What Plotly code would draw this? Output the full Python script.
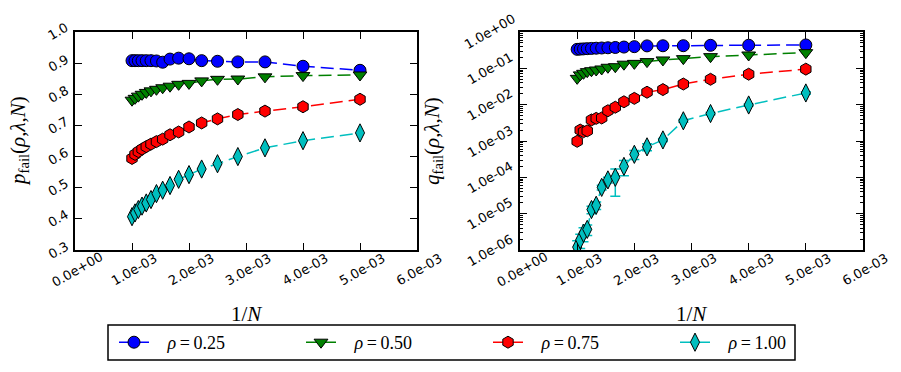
"""
p_fail / q_fail vs 1/N, two panels with a shared legend underneath
"""
import math
import plotly.graph_objects as go

# 1/N for N = 1000, 950, ..., 200
inv_n = [1.000e-3, 1.053e-3, 1.111e-3, 1.176e-3, 1.250e-3, 1.333e-3, 1.429e-3,
         1.538e-3, 1.667e-3, 1.818e-3, 2.000e-3, 2.222e-3, 2.500e-3, 2.857e-3,
         3.333e-3, 4.000e-3, 5.000e-3]

rho_labels = ["0.25", "0.50", "0.75", "1.00"]

# panel izquierdo: p_fail
p_fail_025 = [0.908, 0.908, 0.908, 0.908, 0.908, 0.908, 0.907, 0.903, 0.913,
              0.916, 0.914, 0.908, 0.906, 0.904, 0.904, 0.890, 0.877]
p_fail_050 = [0.781, 0.787, 0.794, 0.800, 0.806, 0.811, 0.816, 0.821, 0.826,
              0.832, 0.835, 0.843, 0.848, 0.849, 0.856, 0.860, 0.862]
p_fail_075 = [0.594, 0.607, 0.616, 0.624, 0.632, 0.640, 0.648, 0.656, 0.670,
              0.679, 0.695, 0.708, 0.721, 0.735, 0.746, 0.760, 0.784]
p_fail_100 = [0.407, 0.419, 0.430, 0.441, 0.451, 0.462, 0.481, 0.492, 0.507,
              0.527, 0.542, 0.560, 0.577, 0.600, 0.628, 0.651, 0.676]

# panel derecho: q_fail (log)
q_fail_025 = [0.333, 0.338, 0.343, 0.348, 0.353, 0.358, 0.363, 0.368, 0.375,
              0.385, 0.395, 0.415, 0.418, 0.420, 0.430, 0.432, 0.440]
q_fail_050 = [0.053, 0.066, 0.073, 0.081, 0.086, 0.090, 0.096, 0.107, 0.111,
              0.130, 0.137, 0.153, 0.170, 0.185, 0.210, 0.233, 0.270]
q_fail_075 = [0.00098, 0.0020, 0.0018, 0.0019, 0.0038, 0.0042, 0.0043, 0.0068,
              0.0085, 0.012, 0.0149, 0.022, 0.026, 0.037, 0.050, 0.069, 0.095]
q_fail_100 = [1.2e-6, 1.9e-6, 2.9e-6, 3.7e-6, 1.3e-5, 1.7e-5, 5.3e-5, 8.5e-5,
              1.0e-4, 2.0e-4, 4.3e-4, 6.9e-4, 1.07e-3, 3.6e-3, 5.7e-3, 9.8e-3, 0.021]
q_err_100 = [0.6e-6, 0.8e-6, 1.2e-6, 1.2e-6, 3e-6, 4e-6, 8e-6, 1.5e-5,
             7e-5, 9e-5, 1.2e-4, 1.5e-4, 1.0e-4, 3e-4, 4e-4, 6e-4, 1.5e-3]

x_ticks = [0, 1e-3, 2e-3, 3e-3, 4e-3, 5e-3, 6e-3]
x_ticktext = ["0.0e+00", "1.0e-03", "2.0e-03", "3.0e-03", "4.0e-03", "5.0e-03", "6.0e-03"]
p_ticks = [0.3, 0.4, 0.5, 0.6, 0.7, 0.8, 0.9, 1.0]
p_ticktext = ["0.3", "0.4", "0.5", "0.6", "0.7", "0.8", "0.9", "1.0"]
q_ticks = [1e-6, 1e-5, 1e-4, 1e-3, 1e-2, 1e-1, 1]
q_ticktext = ["1.0e-06", "1.0e-05", "1.0e-04", "1.0e-03", "1.0e-02", "1.0e-01", "1.0e+00"]
q_minor = [k * 10.0 ** e for e in range(-6, 0) for k in range(2, 10)]

COLORS = ['#0000ff', '#008000', '#ff0000', '#00bfbf']
SYMBOLS = ['circle', 'triangle-down', 'hexagon', 'diamond-tall']
MATH_FONT = "Liberation Serif"
TICK_FONT = dict(family="DejaVu Sans", size=13, color='black')

# el body de la página tiene 8px de margen: la figura se achica y se desplaza
OFF = 8
W, H = 901 - OFF, 372 - OFF


def fx(px):
    """pixel horizontal de la ventana -> fracción de paper"""
    return (px - OFF) / W


def fy(py):
    """pixel vertical de la ventana -> fracción de paper"""
    return 1 - (py - OFF) / H


fig = go.Figure()

p_series = [p_fail_025, p_fail_050, p_fail_075, p_fail_100]
q_series = [q_fail_025, q_fail_050, q_fail_075, q_fail_100]

for i, (p_vals, q_vals) in enumerate(zip(p_series, q_series)):
    estilo = dict(
        mode='lines+markers',
        line=dict(color=COLORS[i], width=1.5, dash='13px,6px'),
        marker=dict(symbol=SYMBOLS[i], size=12 if i != 3 else 13, color=COLORS[i],
                    line=dict(color='black', width=1)),
    )
    fig.add_trace(go.Scatter(
        x=inv_n, y=p_vals, xaxis='x', yaxis='y',
        name=f"&nbsp;&nbsp;&nbsp;<i>ρ</i>\u2009=\u2009{rho_labels[i]}",
        legendgroup=str(i), showlegend=True, **estilo
    ))
    err = dict(type='data', array=q_err_100, color=COLORS[i], thickness=1.5, width=5) \
        if i == 3 else None
    fig.add_trace(go.Scatter(
        x=inv_n, y=q_vals, xaxis='x2', yaxis='y2',
        error_y=err, legendgroup=str(i), showlegend=False, **estilo
    ))

# dominios (pixeles de la referencia)
x1 = [fx(75), fx(417)]
x2 = [fx(520), fx(863)]
yd = [fy(250), fy(32)]

eje = dict(showline=True, linecolor='black', linewidth=2, mirror='ticks',
           ticks='inside', ticklen=7, tickwidth=1, tickcolor='black',
           showgrid=False, zeroline=False, automargin=False, showticklabels=False)

fig.update_layout(
    width=W, height=H,
    margin=dict(l=0, r=0, t=0, b=0),
    plot_bgcolor='white', paper_bgcolor='white',
    xaxis=dict(domain=x1, range=[0, 0.006], tickvals=x_ticks, anchor='y', **eje),
    yaxis=dict(domain=yd, range=[0.3, 1.0], tickvals=p_ticks, anchor='x', **eje),
    xaxis2=dict(domain=x2, range=[0, 0.006], tickvals=x_ticks, anchor='y2', **eje),
    yaxis2=dict(domain=yd, type='log', range=[-6, 0], tickvals=q_ticks, anchor='x2',
                minor=dict(tickmode='array', tickvals=q_minor, ticks='inside',
                           ticklen=3, tickcolor='black', showgrid=False),
                **eje),
    legend=dict(
        orientation='h', x=fx(114), y=fy(324), xanchor='left', yanchor='top',
        borderwidth=0, bgcolor='rgba(0,0,0,0)',
        font=dict(family=MATH_FONT, size=18, color='black'),
        itemwidth=30, entrywidth=142, entrywidthmode='pixels', tracegroupgap=0,
    ),
)

# caja de la leyenda
fig.add_shape(type='rect', xref='paper', yref='paper',
              x0=fx(108), x1=fx(795), y0=fy(360), y1=fy(325),
              line=dict(color='black', width=1.5), layer='below')

# etiquetas de ticks rotadas 30°, centradas como en matplotlib
for xa in ['x', 'x2']:
    for v, t in zip(x_ticks, x_ticktext):
        fig.add_annotation(x=v, y=fy(277), xref=xa, yref='paper', text=t,
                           textangle=-30, showarrow=False, font=TICK_FONT,
                           xanchor='center', yanchor='middle', xshift=2, yshift=8)
for v, t in zip(p_ticks, p_ticktext):
    fig.add_annotation(x=fx(58), y=v, xref='paper', yref='y', text=t,
                       textangle=-30, showarrow=False, font=TICK_FONT,
                       xanchor='center', yanchor='middle')
for v, t in zip(q_ticks, q_ticktext):
    fig.add_annotation(x=fx(490), y=math.log10(v), xref='paper', yref='y2', text=t,
                       textangle=-30, showarrow=False, font=TICK_FONT,
                       xanchor='center', yanchor='middle')

# títulos de ejes
etiquetas = [
    dict(x=(x1[0] + x1[1]) / 2, y=fy(314), text="1/<i>N</i>", textangle=0),
    dict(x=(x2[0] + x2[1]) / 2, y=fy(314), text="1/<i>N</i>", textangle=0),
    dict(x=fx(19), y=fy(141),
         text="<i>p</i><sub>fail</sub>(<i>ρ</i>,<i>λ</i>,<i>N</i>)", textangle=-90),
    dict(x=fx(433), y=fy(141),
         text="<i>q</i><sub>fail</sub>(<i>ρ</i>,<i>λ</i>,<i>N</i>)", textangle=-90),
]
for e in etiquetas:
    fig.add_annotation(xref='paper', yref='paper', showarrow=False,
                       xanchor='center', yanchor='middle',
                       font=dict(family=MATH_FONT, size=21, color='black'), **e)

fig.write_html("out.html")
